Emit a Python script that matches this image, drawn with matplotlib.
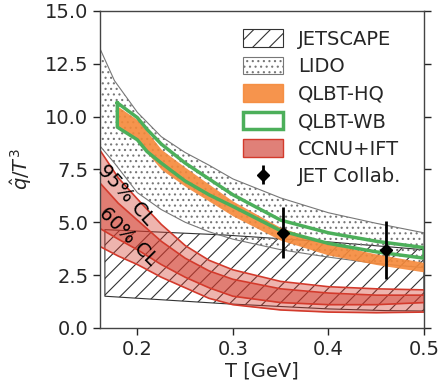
import numpy as np
import matplotlib
matplotlib.use("Agg")
import matplotlib.pyplot as plt
from matplotlib.patches import Patch

# JETSCAPE band
T_jet = [0.166, 0.29, 0.4, 0.46, 0.5]
jet_hi = [4.65, 4.4, 4.07, 3.85, 3.7]
jet_lo = [1.5, 1.15, 0.9, 0.82, 0.8]

# LIDO band
T_lido = [0.161, 0.176, 0.2, 0.225, 0.25, 0.275, 0.3, 0.35, 0.4, 0.45, 0.5]
lido_hi = [13.2, 11.7, 10.2, 9.05, 8.3, 7.7, 7.05, 6.15, 5.45, 4.95, 4.5]
lido_lo = [8.6, 7.8, 6.4, 5.6, 5.0, 4.55, 4.2, 3.7, 3.35, 3.05, 2.85]

# QLBT bands
T_qlbt = [0.179, 0.2, 0.21, 0.225, 0.25, 0.275, 0.3, 0.35, 0.4, 0.45, 0.5]
wb_hi = [10.65, 9.95, 9.4, 8.7, 7.8, 7.05, 6.3, 5.1, 4.5, 4.1, 3.8]
wb_lo = [9.5, 8.9, 8.35, 7.8, 6.95, 6.3, 5.75, 4.6, 4.0, 3.6, 3.3]
hq_hi = [10.5, 9.85, 9.3, 8.45, 7.6, 6.8, 6.0, 4.75, 4.0, 3.5, 3.1]
hq_lo = [9.5, 8.9, 8.3, 7.5, 6.7, 6.0, 5.3, 4.15, 3.45, 3.0, 2.65]

# CCNU+IFT bands
T_ccnu = [0.161, 0.18, 0.2, 0.225, 0.25, 0.275, 0.3, 0.35, 0.4, 0.45, 0.5]
c95_hi = [8.4, 7.1, 6.1, 4.9, 3.9, 3.2, 2.75, 2.2, 1.95, 1.85, 1.8]
c60_hi = [6.85, 5.9, 5.1, 4.1, 3.3, 2.7, 2.3, 1.85, 1.65, 1.55, 1.55]
c60_lo = [4.7, 4.2, 3.7, 3.0, 2.4, 1.9, 1.5, 1.2, 1.1, 1.1, 1.2]
c95_lo = [3.85, 3.4, 3.0, 2.4, 1.9, 1.4, 1.1, 0.85, 0.75, 0.72, 0.75]

# JET collaboration points
T_pts = [0.352, 0.46]
q_pts = [4.5, 3.7]
q_err = [1.2, 1.37]

plt.rcParams['font.family'] = ['DejaVu Sans']
plt.rcParams['hatch.linewidth'] = 0.8
fig = plt.figure(figsize=(4.43, 3.89), dpi=100)
ax = fig.add_axes([0.226, 0.157, 0.731, 0.815])

dark = '#262626'
red = '#d33a2c'

ax.fill_between(T_jet, jet_lo, jet_hi, facecolor='none', edgecolor='#333333',
                hatch='//', linewidth=0.8)
ax.fill_between(T_lido, lido_lo, lido_hi, facecolor='none', edgecolor='#777777',
                hatch='...', linewidth=0.8)

ax.fill_between(T_ccnu, c95_lo, c95_hi, color=red, alpha=0.38, linewidth=0)
ax.fill_between(T_ccnu, c60_lo, c60_hi, color=red, alpha=0.45, linewidth=0)
for y in (c95_hi, c60_hi, c60_lo, c95_lo):
    ax.plot(T_ccnu, y, color=red, lw=1.2)

ax.fill_between(T_qlbt, hq_lo, hq_hi, color='#f5893a', alpha=0.9, linewidth=0)
wb_x = list(T_qlbt) + list(T_qlbt[::-1]) + [T_qlbt[0]]
wb_y = list(wb_hi) + list(wb_lo[::-1]) + [wb_hi[0]]
ax.plot(wb_x, wb_y, color='#4caf5a', lw=2.5)

jet = ax.errorbar(T_pts, q_pts, yerr=q_err, fmt='D', color='black', ms=6,
                  elinewidth=2, capsize=0)

ax.text(0.1885, 6.3, '95% CL', rotation=-48, fontsize=14, color='black',
        ha='center', va='center')
ax.text(0.1905, 4.35, '60% CL', rotation=-45, fontsize=14, color='black',
        ha='center', va='center')

ax.set_xlim(0.161, 0.5)
ax.set_ylim(0, 15)
ax.set_xticks([0.2, 0.3, 0.4, 0.5])
ax.set_yticks(np.arange(0, 15.1, 2.5))
ax.set_xlabel('T [GeV]', fontsize=14, color=dark, labelpad=2)
ax.set_ylabel(r'$\hat{q}/T^3$', fontsize=14, color=dark, labelpad=8)
ax.tick_params(labelsize=14, colors=dark, length=5, width=1, right=True)
for s in ax.spines.values():
    s.set_color('#444444')
    s.set_linewidth(1)

handles = [
    Patch(facecolor='none', edgecolor='#333333', hatch='//', lw=0.8),
    Patch(facecolor='none', edgecolor='#777777', hatch='...', lw=0.8),
    Patch(facecolor='#f5893a', edgecolor='#f5893a', alpha=0.9),
    Patch(facecolor='none', edgecolor='#4caf5a', lw=2.5),
    Patch(facecolor='#e08078', edgecolor=red, lw=1),
    jet,
]
labels = ['JETSCAPE', 'LIDO', 'QLBT-HQ', 'QLBT-WB', 'CCNU+IFT', 'JET Collab.']
ax.legend(handles, labels, loc='upper right', bbox_to_anchor=(0.988, 1.0),
          frameon=False, fontsize=14, handlelength=2.05, handleheight=1.0,
          labelspacing=0.42, handletextpad=0.8, borderaxespad=0.55,
          labelcolor=dark)

fig.savefig('out.png', dpi=100)
